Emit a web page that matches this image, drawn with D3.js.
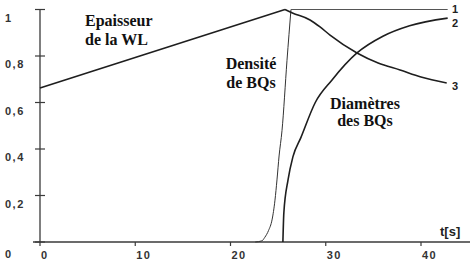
<!DOCTYPE html>
<html>
<head>
<meta charset="utf-8">
<script src="https://cdn.jsdelivr.net/npm/d3@7"></script>
<style>
  body { margin: 0; background: #fff; }
  svg { display: block; }
</style>
</head>
<body>
<div id="chart"></div>
<script>
const width = 472;
const height = 267;

// tick values
const xTicks = [0, 10, 20, 30, 40];
const yTicks = [0, 0.2, 0.4, 0.6, 0.8, 1];
const yTickLabels = ["0", "0,2", "0,4", "0,6", "0,8", "1"];

// curve 1 : densite de BQs (rise then plateau)
const densT = [22.6, 23.3, 23.6, 24.0, 24.36, 24.67, 24.88, 25.1, 25.41, 25.93, 26.35];
const densV = [0, 0.005, 0.02, 0.05, 0.095, 0.18, 0.267, 0.37, 0.48, 0.78, 1.0];
const plateauT = [26.35, 42.8];
const plateauV = [1, 1];

// curve 2 : diametres des BQs
const diamT = [25.5, 25.6, 26.04, 26.55, 27.4, 28.9, 30.66, 33.28, 36, 38.8, 42.8];
const diamV = [0, 0.125, 0.267, 0.366, 0.45, 0.6, 0.697, 0.813, 0.885, 0.93, 0.963];

// curve 3 : epaisseur de la WL
const wlRiseT = [0, 25.72];
const wlRiseV = [0.662, 1.0];
const wlDropT = [25.72, 26.5, 28.35, 29.4, 30.45, 33.28, 35.5, 37.8, 40, 42.7];
const wlDropV = [1.0, 0.985, 0.955, 0.925, 0.89, 0.813, 0.77, 0.74, 0.71, 0.684];

const svg = d3.select("#chart").append("svg")
  .attr("width", width)
  .attr("height", height);

const x = d3.scaleLinear().domain([0, 40]).range([40, 421]);
const y = d3.scaleLinear().domain([0, 1]).range([242, 9.5]);

const ink = "#1e1e1e";
const sans = "Liberation Sans";
const serif = "Liberation Serif";

// axis lines
svg.append("path")
  .attr("d", `M33,${y(0)}H470`)
  .attr("stroke", "#3a3a3a").attr("stroke-width", 1.3).attr("fill", "none");
svg.append("path")
  .attr("d", `M${x(0)},${y(1)}V${y(0)}`)
  .attr("stroke", "#3a3a3a").attr("stroke-width", 1.3).attr("fill", "none");

// x ticks + labels
xTicks.forEach(d => {
  svg.append("path")
    .attr("d", `M${x(d)},${y(0)}v4`)
    .attr("stroke", "#3a3a3a").attr("stroke-width", 1.2).attr("fill", "none");
  svg.append("text")
    .attr("x", x(d) + 1).attr("y", 259)
    .attr("fill", "#333")
    .attr("font-family", sans)
    .attr("font-weight", "bold")
    .attr("font-size", 11)
    .attr("letter-spacing", 1.5)
    .text(String(d));
});

// y ticks + labels
yTicks.forEach((d, i) => {
  svg.append("path")
    .attr("d", `M${x(0) - 5},${y(d)}h10`)
    .attr("stroke", "#3a3a3a").attr("stroke-width", 1.2).attr("fill", "none");
  svg.append("text")
    .attr("x", 5).attr("y", d === 0 ? 258 : y(d) + 12)
    .attr("fill", "#333")
    .attr("font-family", sans)
    .attr("font-weight", "bold")
    .attr("font-size", 11)
    .attr("letter-spacing", 1.5)
    .text(yTickLabels[i]);
});

const zip = (ts, vs) => ts.map((t, i) => [t, vs[i]]);
const lineLin = d3.line().x(d => x(d[0])).y(d => y(d[1]));
const lineSmooth = d3.line().x(d => x(d[0])).y(d => y(d[1])).curve(d3.curveMonotoneX);

svg.append("path").datum(zip(densT, densV))
  .attr("d", lineSmooth).attr("fill", "none")
  .attr("stroke", "#333").attr("stroke-width", 1);
svg.append("path").datum(zip(plateauT, plateauV))
  .attr("d", lineLin).attr("fill", "none")
  .attr("stroke", "#555").attr("stroke-width", 1);
svg.append("path").datum(zip(diamT, diamV))
  .attr("d", lineSmooth).attr("fill", "none")
  .attr("stroke", ink).attr("stroke-width", 1.6);
svg.append("path").datum(zip(wlRiseT, wlRiseV))
  .attr("d", lineLin).attr("fill", "none")
  .attr("stroke", ink).attr("stroke-width", 1.6);
svg.append("path").datum(zip(wlDropT, wlDropV))
  .attr("d", lineSmooth).attr("fill", "none")
  .attr("stroke", ink).attr("stroke-width", 1.6);

// curve numbers
[["1", 13], ["2", 27], ["3", 90]].forEach(d => {
  svg.append("text")
    .attr("x", 452).attr("y", d[1])
    .attr("fill", "#222")
    .attr("font-family", sans)
    .attr("font-weight", "bold")
    .attr("font-size", 11)
    .text(d[0]);
});

// t[s]
svg.append("text")
  .attr("x", 440).attr("y", 236)
  .attr("fill", "#222")
  .attr("font-family", sans)
  .attr("font-weight", "bold")
  .attr("font-size", 13)
  .text("t[s]");

// annotations
[
  ["Epaisseur", 85, 26, "start"],
  ["de la WL", 85, 45, "start"],
  ["Densité", 251, 69, "middle"],
  ["de BQs", 251, 88, "middle"],
  ["Diamètres", 365, 109, "middle"],
  ["des BQs", 365, 126, "middle"]
].forEach(d => {
  svg.append("text")
    .attr("x", d[1]).attr("y", d[2])
    .attr("text-anchor", d[3])
    .attr("fill", "#111")
    .attr("font-family", serif)
    .attr("font-weight", "bold")
    .attr("font-size", 16)
    .text(d[0]);
});
</script>
</body>
</html>
